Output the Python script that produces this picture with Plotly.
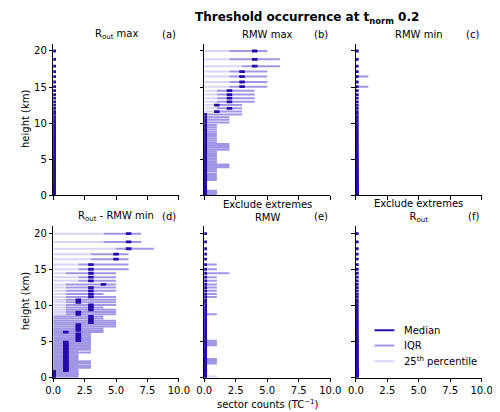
import plotly.graph_objects as go

# ---------------- data ----------------
heights = [20.0, 18.85, 17.9, 17.15, 16.45, 15.7, 15.05, 14.5, 13.95, 13.45,
           12.95, 12.5, 12.05, 11.6, 11.2, 10.8, 10.45, 10.1, 9.75, 9.42,
           9.1, 8.79, 8.49, 8.2, 7.91, 7.63, 7.36, 7.09, 6.83, 6.57,
           6.32, 6.07, 5.83, 5.59, 5.36, 5.13, 4.91, 4.69, 4.48, 4.27,
           4.07, 3.87, 3.67, 3.48, 3.29, 3.11, 2.93, 2.76, 2.59, 2.42,
           2.26, 2.1, 1.95, 1.8, 1.65, 1.51, 1.37, 1.24, 1.11, 0.98,
           0.86, 0.74, 0.63, 0.52, 0.42, 0.32, 0.23, 0.14, 0.05]

# (a) R_out max
a_q25 = [0, 0, 0, 0, 0, 0, 0, 0, 0, 0,
         0, 0, 0, 0, 0, 0, 0, 0, 0, 0,
         0, 0, 0, 0, 0, 0, 0, 0, 0, 0,
         0, 0, 0, 0, 0, 0, 0, 0, 0, 0,
         0, 0, 0, 0, 0, 0, 0, 0, 0, 0,
         0, 0, 0, 0, 0, 0, 0, 0, 0, 0,
         0, 0, 0, 0, 0, 0, 0, 0, 0]
a_q75 = list(a_q25)
a_med = list(a_q25)

# (b) RMW max
b_q25 = [2, 2, 3, 2, 2, 2, 2, 1, 1, 1,
         1, 1, 1, 1, 0, 0, 0, 0, 0, 0,
         0, 0, 0, 0, 0, 0, 0, 0, 0, 0,
         0, 0, 0, 0, 0, 0, 0, 0, 0, 0,
         0, 0, 0, 0, 0, 0, 0, 0, 0, 0,
         0, 0, 0, 0, 0, 0, 0, 0, 0, 0,
         0, 0, 0, 0, 0, 0, 0, 0, 0]
b_q75 = [5, 6, 6, 5, 5, 5, 5, 4, 4, 4,
         4, 3, 3, 3, 3, 2, 2, 2, 1, 1,
         1, 1, 1, 1, 1, 1, 1, 2, 2, 2,
         2, 1, 1, 1, 1, 1, 1, 1, 1, 2,
         2, 2, 1, 1, 1, 0, 1, 1, 1, 1,
         1, 1, 0, 0, 0, 0, 0, 0, 0, 0,
         0, 0, 1, 1, 1, 1, 1, 1, 1]
b_med = [4, 4, 4, 3, 3, 3, 3, 2, 2, 2,
         2, 1, 2, 1, 0, 0, 0, 0, 0, 0,
         0, 0, 0, 0, 0, 0, 0, 0, 0, 0,
         0, 0, 0, 0, 0, 0, 0, 0, 0, 0,
         0, 0, 0, 0, 0, 0, 0, 0, 0, 0,
         0, 0, 0, 0, 0, 0, 0, 0, 0, 0,
         0, 0, 0, 0, 0, 0, 0, 0, 0]

# (c) RMW min
c_q25 = list(a_q25)
c_q75 = [0, 0, 0, 0, 1, 0, 1, 0, 0, 0,
         0, 0, 0, 0, 0, 0, 0, 0, 0, 0,
         0, 0, 0, 0, 0, 0, 0, 0, 0, 0,
         0, 0, 0, 0, 0, 0, 0, 0, 0, 0,
         0, 0, 0, 0, 0, 0, 0, 0, 0, 0,
         0, 0, 0, 0, 0, 0, 0, 0, 0, 0,
         0, 0, 0, 0, 0, 0, 0, 0, 0]
c_med = list(a_med)

# (d) R_out - RMW min
d_q25 = [4, 4, 5, 3, 3, 2, 2, 1, 2, 2,
         1, 1, 1, 1, 1, 1, 1, 1, 1, 1,
         1, 1, 0, 0, 0, 0, 0, 0, 0, 0,
         0, 0, 0, 0, 0, 0, 0, 0, 0, 0,
         0, 0, 0, 0, 0, 0, 0, 0, 0, 0,
         0, 0, 0, 0, 0, 0, 0, 0, 0, 0,
         0, 0, 0, 0, 0, 0, 0, 0, 0]
d_q75 = [7, 7, 8, 6, 6, 6, 6, 5, 5, 5,
         5, 5, 5, 4, 5, 5, 5, 5, 4, 5,
         5, 5, 4, 4, 5, 5, 5, 5, 4, 4,
         4, 3, 3, 3, 3, 3, 3, 3, 3, 3,
         3, 3, 2, 3, 2, 2, 2, 2, 2, 2,
         3, 3, 3, 2, 3, 3, 3, 2, 2, 2,
         2, 2, 2, 2, 2, 2, 2, 2, 2]
d_med = [6, 6, 6, 5, 5, 3, 3, 3, 3, 3,
         4, 3, 3, 3, 3, 2, 2, 3, 3, 3,
         2, 2, 3, 3, 3, 3, 2, 2, 2, 2,
         1, 2, 2, 2, 2, 2, 1, 1, 1, 1,
         1, 1, 1, 1, 1, 1, 1, 1, 1, 1,
         1, 1, 1, 1, 1, 1, 1, 1, 1, 1,
         0, 0, 0, 0, 0, 0, 0, 0, 0]

# (e) Exclude extremes, RMW
e_q25 = [0, 0, 0, 0, 0, 0, 0, 0, 0, 0,
         0, 0, 0, 0, 0, 0, 0, 0, 0, 0,
         0, 0, 0, 0, 0, 0, 0, 0, 0, 0,
         0, 0, 0, 0, 0, 0, 0, 0, 0, 0,
         0, 0, 0, 0, 0, 0, 0, 0, 0, 0,
         0, 0, 0, 0, 0, 0, 0, 0, 0, 0,
         0, 0, 0, 0, 0, 0, 0, 1, 0]
e_q75 = [0, 0, 0, 0, 0, 1, 1, 2, 1, 1,
         1, 1, 1, 1, 1, 0, 0, 0, 0, 0,
         0, 1, 0, 0, 0, 0, 0, 0, 0, 0,
         0, 0, 0, 0, 0, 1, 1, 1, 1, 0,
         0, 0, 0, 0, 0, 0, 0, 0, 1, 1,
         1, 1, 1, 0, 0, 0, 0, 0, 0, 0,
         0, 0, 0, 0, 0, 0, 0, 1, 0]
e_med = list(a_med)

# (f) Exclude extremes, R_out
f_q25 = list(a_q25)
f_q75 = list(a_q75)
f_med = list(a_med)

panel_titles = ["R<sub>out</sub> max", "RMW max", "RMW min",
                "R<sub>out</sub> - RMW min", "Exclude extremes<br>RMW",
                "Exclude extremes<br>R<sub>out</sub>"]
panel_letters = ["(a)", "(b)", "(c)", "(d)", "(e)", "(f)"]
x_ticks = [0, 2.5, 5, 7.5, 10]
x_ticklabels = ["0.0", "2.5", "5.0", "7.5", "10.0"]
y_ticks = [0, 5, 10, 15, 20]
legend_labels = ["Median", "IQR", "25<sup>th</sup> percentile"]

# ---------------- style ----------------
W, H = 500, 412
FONT = "DejaVu Sans"
FS = 10
C_MED = "#250cab"
C_IQR = "#a097e4"
C_LIGHT = "#d8d5f6"
MED_HALF = 0.22

panels = [(a_q25, a_q75, a_med), (b_q25, b_q75, b_med), (c_q25, c_q75, c_med),
          (d_q25, d_q75, d_med), (e_q25, e_q75, e_med), (f_q25, f_q75, f_med)]

xdom = [(38.7 / W, 169.3 / W), (195.7 / W, 326.7 / W), (353.3 / W, 484.0 / W)]
ydom = [((H - 190.0) / H, (H - 36.3) / H), ((H - 375.0) / H, (H - 221.7) / H)]

fig = go.Figure()
layout_axes = {}
for i, (q25, q75, med) in enumerate(panels):
    r, c = divmod(i, 3)
    n = i + 1
    xa = "x" if n == 1 else f"x{n}"
    ya = "y" if n == 1 else f"y{n}"
    lx, ly, ix, iy, mx, my = [], [], [], [], [], []
    for h, lo, hi, m in zip(heights, q25, q75, med):
        if lo > 0:
            lx += [0, lo, None]
            ly += [h, h, None]
        if hi > lo:
            ix += [lo, hi, None]
            iy += [h, h, None]
        mx += [m - MED_HALF, m + MED_HALF, None]
        my += [h, h, None]
    for xs, ys, col, wd in [(lx, ly, C_LIGHT, 2.0), (ix, iy, C_IQR, 2.0), (mx, my, C_MED, 2.8)]:
        fig.add_trace(go.Scatter(x=xs, y=ys, mode="lines", xaxis=xa, yaxis=ya,
                                 line=dict(color=col, width=wd), showlegend=False,
                                 hoverinfo="skip", connectgaps=False))
    common = dict(showline=True, linecolor="black", linewidth=0.8, ticks="outside",
                  ticklen=3.5, tickwidth=0.8, tickcolor="black", showgrid=False,
                  zeroline=False, tickfont=dict(family=FONT, size=FS, color="black"))
    layout_axes["xaxis" if n == 1 else f"xaxis{n}"] = dict(
        domain=list(xdom[c]), range=[0, 10], anchor=ya, tickmode="array",
        tickvals=x_ticks, ticktext=x_ticklabels, showticklabels=(r == 1), **common)
    layout_axes["yaxis" if n == 1 else f"yaxis{n}"] = dict(
        domain=list(ydom[r]), range=[0, 21], anchor=xa, tickmode="array",
        tickvals=y_ticks, ticktext=[str(v) for v in y_ticks],
        showticklabels=(c == 0), **common)

fig.update_layout(**layout_axes)

ann = []
def A(text, xpx, ypx, xanchor="center", size=FS, angle=0):
    ann.append(dict(text=text, x=xpx / W, y=(H - ypx) / H, xref="paper", yref="paper",
                    xanchor=xanchor, yanchor="middle", showarrow=False, textangle=angle,
                    font=dict(family=FONT, size=size, color="black")))

A("<b>Threshold occurrence at t<sub>norm</sub> 0.2</b>", 302, 10, size=12)
title_y = [26.5, 26.5, 26.5, 211.5, 206.5, 206.5]
letter_y = [26.5, 26.5, 26.5, 211.5, 212, 212]
for i in range(6):
    r, c = divmod(i, 3)
    cx = (xdom[c][0] + xdom[c][1]) / 2 * W
    A(panel_titles[i], cx, title_y[i])
    A(panel_letters[i], xdom[c][1] * W - 0.5, letter_y[i], xanchor="right")
A("height (km)", 10, 113, angle=-90)
A("height (km)", 10, 298, angle=-90)
A("sector counts (TC<sup>\u22121</sup>)", 261.7, 401.5)

shapes = []
for lab, col, yy in zip(legend_labels, [C_MED, C_IQR, C_LIGHT], [327, 342.5, 358.5]):
    shapes.append(dict(type="line", xref="paper", yref="paper",
                       x0=372.7 / W, x1=393.3 / W, y0=(H - yy) / H, y1=(H - yy) / H,
                       line=dict(color=col, width=2)))
    A(lab, 401.5, yy, xanchor="left")

fig.update_layout(width=W, height=H, margin=dict(l=0, r=0, t=0, b=0),
                  paper_bgcolor="white", plot_bgcolor="white",
                  font=dict(family=FONT, size=FS, color="black"),
                  annotations=ann, shapes=shapes, showlegend=False)

fig.write_html("out.html")
